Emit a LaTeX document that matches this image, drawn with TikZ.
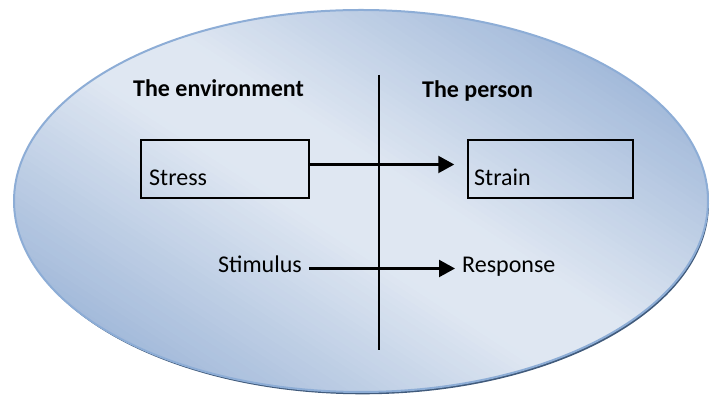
\documentclass[tikz,border=0pt]{standalone}
\usepackage{fontspec}
\setmainfont{Carlito}
\usetikzlibrary{arrows.meta}
\definecolor{ovaldark}{HTML}{A3BADA}
\definecolor{ovallight}{HTML}{DFE7F2}
\definecolor{ovalrim}{HTML}{8DADD6}
\definecolor{ovalshadow}{HTML}{405A7B}
\tikzset{
  labeltext/.style={font=\fontsize{24}{28}\selectfont, inner sep=0pt, text=black},
  headtext/.style={labeltext, font=\fontsize{24}{28}\selectfont\bfseries},
  framebox/.style={draw=black, line width=1.5pt, inner sep=0pt},
  flow/.style={line width=2.2pt, -{Triangle[length=16pt,width=17pt]}},
}
\begin{document}
\begin{tikzpicture}[x=1pt,y=1pt]
\useasboundingbox (0,0) rectangle (710,395);
% thin drop shadow of the oval
\fill[ovalshadow] (362.5,191.2) ellipse [x radius=346.5, y radius=190.5];
% the oval: a light band running from upper left to lower right,
% built from overlapping tilted strips
\begin{scope}
  \clip (361,194) ellipse [x radius=347, y radius=191];
  \begin{scope}[rotate around={-33:(361,194)}]
    \foreach \t [evaluate=\t as \p using {int(max(0,min(100,(250-abs(\t))/2.1)))}]
        in {-276,-270,...,276}
      \fill[ovallight!\p!ovaldark] (-139,194+\t-3.6) rectangle (861,194+\t+3.6);
  \end{scope}
\end{scope}
\draw[ovalrim, line width=2pt] (361,194) ellipse [x radius=347, y radius=191];

% dividing line
\coordinate (divtop) at (379,320);
\coordinate (divbot) at (379,45);
\draw[line width=1.6pt] (divtop) -- (divbot);

% headings
\node[headtext, anchor=base west] (envhead) at (133,298) {The environment};
\node[headtext, anchor=base west] (personhead) at (422,297) {The person};

% boxes
\node[framebox, minimum width=168pt, minimum height=58pt] (stressbox) at (225,226) {};
\node[framebox, minimum width=165pt, minimum height=58pt] (strainbox) at (550.5,226) {};
\node[labeltext, anchor=base west] (stress) at (149,209) {Stress};
\node[labeltext, anchor=base west] (strain) at (474,209) {Strain};

% stimulus / response
\node[labeltext, anchor=base east] (stim) at (302,122) {Stimulus};
\node[labeltext, anchor=base west] (resp) at (462,122) {Response};

% arrows
\draw[flow] ([yshift=4.5pt]stressbox.east) -- ([shift={(-13pt,4.5pt)}]strainbox.west);
\draw[flow] ([shift={(7pt,4.5pt)}]stim.base east) -- ([shift={(-7pt,4.5pt)}]resp.base west);
\end{tikzpicture}
\end{document}
